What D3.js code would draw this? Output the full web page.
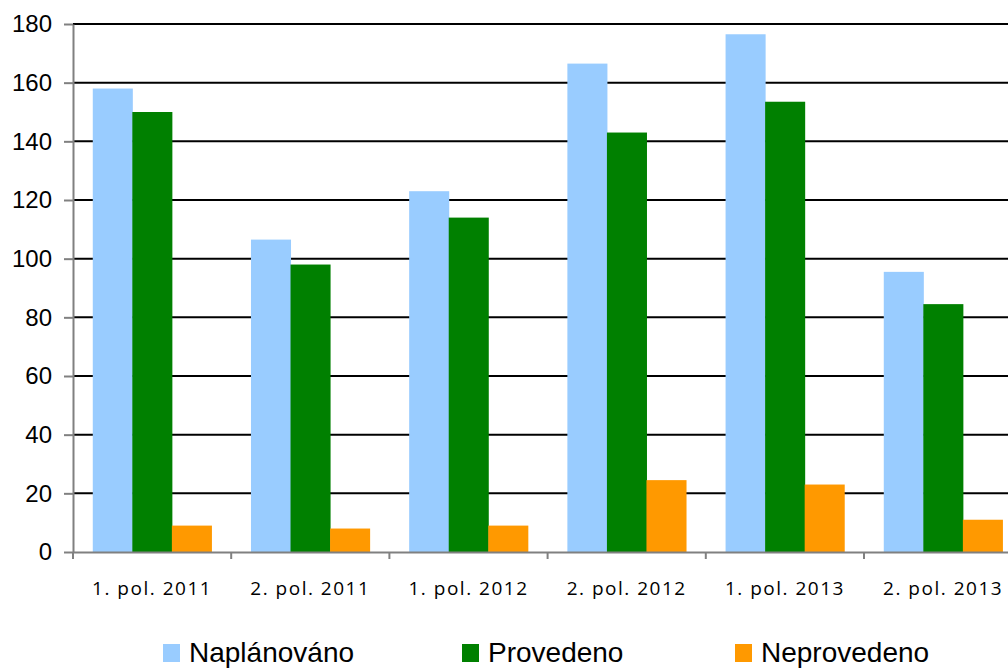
<!DOCTYPE html>
<html>
<head>
<meta charset="utf-8">
<script src="https://cdn.jsdelivr.net/npm/d3@7"></script>
<style>
  body { margin: 0; background: #ffffff; }
  svg { display: block; }
</style>
</head>
<body>
<div id="chart"></div>
<script>
// data
const categories = ["1. pol. 2011", "2. pol. 2011", "1. pol. 2012", "2. pol. 2012", "1. pol. 2013", "2. pol. 2013"];
const seriesNames = ["Naplánováno", "Provedeno", "Neprovedeno"];
const naplanovano = [158, 106.5, 123, 166.5, 176.5, 95.5];
const provedeno = [150, 98, 114, 143, 153.5, 84.5];
const neprovedeno = [9, 8, 9, 24.5, 23, 11];
const yTicks = [0, 20, 40, 60, 80, 100, 120, 140, 160, 180];
const colors = ["#99ccff", "#008000", "#ff9900"];

const width = 1008, height = 669;
const margin = { left: 73, top: 24, bottom: 552 };
const bandW = 158.2;

const svg = d3.select("#chart").append("svg")
    .attr("width", width)
    .attr("height", height);

const y = d3.scaleLinear().domain([0, 180]).range([margin.bottom, margin.top]);
const x = d3.scaleBand()
    .domain(categories)
    .range([margin.left, margin.left + bandW * categories.length])
    .paddingInner(0).paddingOuter(0);
const xs = d3.scaleBand().domain(seriesNames).range([0, bandW]).paddingOuter(0.5).paddingInner(0);

// gridlines
svg.append("g")
    .selectAll("line")
    .data(yTicks.filter(d => d > 0))
    .join("line")
    .attr("x1", margin.left)
    .attr("x2", width)
    .attr("y1", d => y(d))
    .attr("y2", d => y(d))
    .attr("stroke", "#000")
    .attr("stroke-width", 2);

// bars
const table = categories.map((c, i) => ({ cat: c, vals: [naplanovano[i], provedeno[i], neprovedeno[i]] }));
const groups = svg.append("g")
    .selectAll("g")
    .data(table)
    .join("g")
    .attr("transform", d => `translate(${x(d.cat)},0)`);

groups.selectAll("rect")
    .data(d => d.vals.map((v, j) => ({ name: seriesNames[j], v: v, j: j })))
    .join("rect")
    .attr("x", d => xs(d.name))
    .attr("y", d => y(d.v))
    .attr("width", xs.bandwidth() + 0.5)
    .attr("height", d => y(0) - y(d.v))
    .attr("fill", d => colors[d.j]);

// y axis
const yAxis = svg.append("g")
    .attr("transform", `translate(${margin.left},0)`)
    .call(d3.axisLeft(y).tickValues(yTicks).tickSize(9).tickPadding(12).tickSizeOuter(0));
yAxis.select(".domain").attr("stroke", "#808080").attr("stroke-width", 2);
yAxis.selectAll(".tick line").attr("stroke", "#808080").attr("stroke-width", 2);
yAxis.selectAll(".tick text")
    .attr("font-family", "Liberation Sans, Arial, sans-serif")
    .attr("font-size", 24)
    .attr("fill", "#000");

// x axis
const xAxis = svg.append("g")
    .attr("transform", `translate(0,${margin.bottom})`)
    .call(d3.axisBottom(x).tickSize(0).tickPadding(30));
xAxis.select(".domain").attr("stroke", "#808080").attr("stroke-width", 2);
xAxis.selectAll(".tick text")
    .attr("font-family", "Open Sans, sans-serif")
    .attr("font-size", 19)
    .attr("letter-spacing", "1.5px")
    .attr("fill", "#000");
// category boundary ticks
xAxis.append("g")
    .selectAll("line")
    .data(d3.range(categories.length + 1))
    .join("line")
    .attr("x1", i => margin.left + i * bandW)
    .attr("x2", i => margin.left + i * bandW)
    .attr("y1", 0)
    .attr("y2", 7)
    .attr("stroke", "#808080")
    .attr("stroke-width", 2);

// legend
const legendX = [163, 462, 735];
const legend = svg.append("g")
    .selectAll("g")
    .data(seriesNames)
    .join("g")
    .attr("transform", (d, i) => `translate(${legendX[i]},644)`);
legend.append("rect")
    .attr("width", 17)
    .attr("height", 18)
    .attr("fill", (d, i) => colors[i]);
legend.append("text")
    .attr("x", 26)
    .attr("y", 18)
    .attr("font-family", "Liberation Sans, Arial, sans-serif")
    .attr("font-size", 28)
    .attr("fill", "#000")
    .text(d => d);
</script>
</body>
</html>
